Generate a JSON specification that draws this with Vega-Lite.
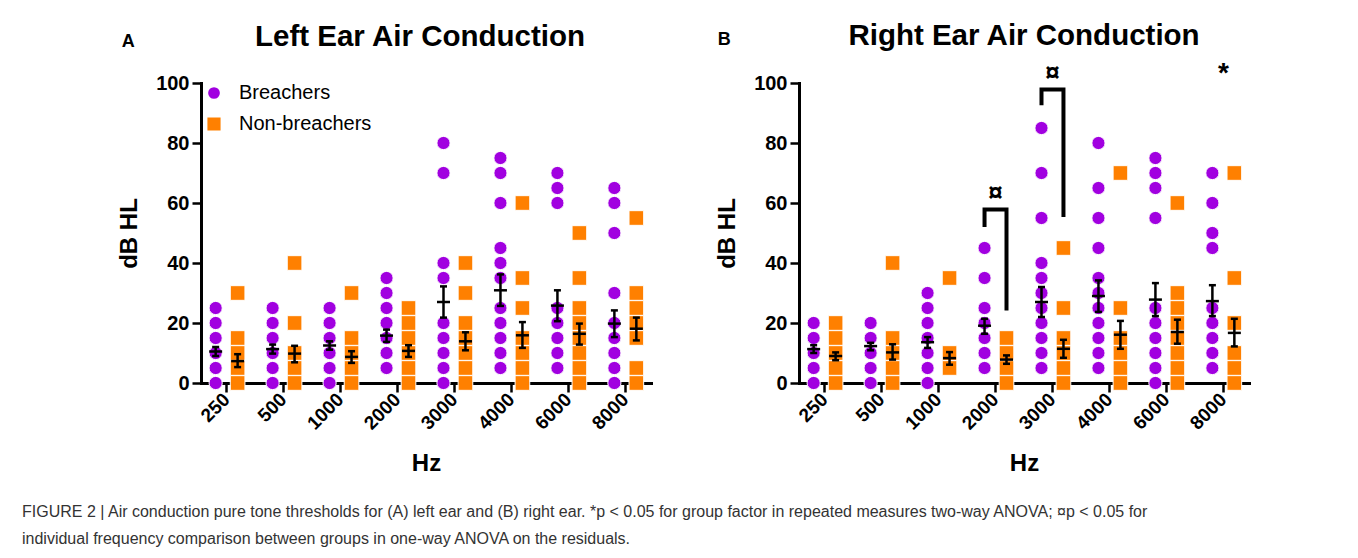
{
"$schema": "https://vega.github.io/schema/vega-lite/v6.json",
"padding": {"left": 22, "top": 21, "right": 5, "bottom": 5},
"background": "white",
"config": {
  "font": "Liberation Sans",
  "view": {"stroke": null},
  "axis": {"domainColor": "black", "domainWidth": 3, "domainCap": "square", "tickColor": "black", "tickWidth": 2.5, "tickSize": 9, "labelColor": "black", "labelFont": "Liberation Sans", "labelFontWeight": "bold", "labelFontSize": 20, "titleColor": "black", "titleFont": "Liberation Sans", "titleFontWeight": "bold", "titleFontSize": 24, "grid": false},
  "axisY": {"labelPadding": 3}
},
"datasets": {
  "points": [
    {"ear":"Left","freq":"250","group":"Breachers","value":0},{"ear":"Left","freq":"250","group":"Breachers","value":5},{"ear":"Left","freq":"250","group":"Breachers","value":10},{"ear":"Left","freq":"250","group":"Breachers","value":15},{"ear":"Left","freq":"250","group":"Breachers","value":20},{"ear":"Left","freq":"250","group":"Breachers","value":25},
    {"ear":"Left","freq":"500","group":"Breachers","value":0},{"ear":"Left","freq":"500","group":"Breachers","value":5},{"ear":"Left","freq":"500","group":"Breachers","value":10},{"ear":"Left","freq":"500","group":"Breachers","value":15},{"ear":"Left","freq":"500","group":"Breachers","value":20},{"ear":"Left","freq":"500","group":"Breachers","value":25},
    {"ear":"Left","freq":"1000","group":"Breachers","value":0},{"ear":"Left","freq":"1000","group":"Breachers","value":5},{"ear":"Left","freq":"1000","group":"Breachers","value":10},{"ear":"Left","freq":"1000","group":"Breachers","value":15},{"ear":"Left","freq":"1000","group":"Breachers","value":20},{"ear":"Left","freq":"1000","group":"Breachers","value":25},
    {"ear":"Left","freq":"2000","group":"Breachers","value":5},{"ear":"Left","freq":"2000","group":"Breachers","value":10},{"ear":"Left","freq":"2000","group":"Breachers","value":15},{"ear":"Left","freq":"2000","group":"Breachers","value":20},{"ear":"Left","freq":"2000","group":"Breachers","value":25},{"ear":"Left","freq":"2000","group":"Breachers","value":30},{"ear":"Left","freq":"2000","group":"Breachers","value":35},
    {"ear":"Left","freq":"3000","group":"Breachers","value":0},{"ear":"Left","freq":"3000","group":"Breachers","value":5},{"ear":"Left","freq":"3000","group":"Breachers","value":10},{"ear":"Left","freq":"3000","group":"Breachers","value":15},{"ear":"Left","freq":"3000","group":"Breachers","value":20},{"ear":"Left","freq":"3000","group":"Breachers","value":35},{"ear":"Left","freq":"3000","group":"Breachers","value":40},{"ear":"Left","freq":"3000","group":"Breachers","value":70},{"ear":"Left","freq":"3000","group":"Breachers","value":80},
    {"ear":"Left","freq":"4000","group":"Breachers","value":5},{"ear":"Left","freq":"4000","group":"Breachers","value":10},{"ear":"Left","freq":"4000","group":"Breachers","value":15},{"ear":"Left","freq":"4000","group":"Breachers","value":20},{"ear":"Left","freq":"4000","group":"Breachers","value":25},{"ear":"Left","freq":"4000","group":"Breachers","value":35},{"ear":"Left","freq":"4000","group":"Breachers","value":40},{"ear":"Left","freq":"4000","group":"Breachers","value":45},{"ear":"Left","freq":"4000","group":"Breachers","value":60},{"ear":"Left","freq":"4000","group":"Breachers","value":70},{"ear":"Left","freq":"4000","group":"Breachers","value":75},
    {"ear":"Left","freq":"6000","group":"Breachers","value":5},{"ear":"Left","freq":"6000","group":"Breachers","value":10},{"ear":"Left","freq":"6000","group":"Breachers","value":15},{"ear":"Left","freq":"6000","group":"Breachers","value":20},{"ear":"Left","freq":"6000","group":"Breachers","value":25},{"ear":"Left","freq":"6000","group":"Breachers","value":60},{"ear":"Left","freq":"6000","group":"Breachers","value":65},{"ear":"Left","freq":"6000","group":"Breachers","value":70},
    {"ear":"Left","freq":"8000","group":"Breachers","value":0},{"ear":"Left","freq":"8000","group":"Breachers","value":5},{"ear":"Left","freq":"8000","group":"Breachers","value":10},{"ear":"Left","freq":"8000","group":"Breachers","value":15},{"ear":"Left","freq":"8000","group":"Breachers","value":20},{"ear":"Left","freq":"8000","group":"Breachers","value":30},{"ear":"Left","freq":"8000","group":"Breachers","value":50},{"ear":"Left","freq":"8000","group":"Breachers","value":60},{"ear":"Left","freq":"8000","group":"Breachers","value":65},
    {"ear":"Left","freq":"250","group":"Non-breachers","value":0},{"ear":"Left","freq":"250","group":"Non-breachers","value":5},{"ear":"Left","freq":"250","group":"Non-breachers","value":10},{"ear":"Left","freq":"250","group":"Non-breachers","value":15},{"ear":"Left","freq":"250","group":"Non-breachers","value":30},
    {"ear":"Left","freq":"500","group":"Non-breachers","value":0},{"ear":"Left","freq":"500","group":"Non-breachers","value":5},{"ear":"Left","freq":"500","group":"Non-breachers","value":10},{"ear":"Left","freq":"500","group":"Non-breachers","value":20},{"ear":"Left","freq":"500","group":"Non-breachers","value":40},
    {"ear":"Left","freq":"1000","group":"Non-breachers","value":0},{"ear":"Left","freq":"1000","group":"Non-breachers","value":5},{"ear":"Left","freq":"1000","group":"Non-breachers","value":10},{"ear":"Left","freq":"1000","group":"Non-breachers","value":15},{"ear":"Left","freq":"1000","group":"Non-breachers","value":30},
    {"ear":"Left","freq":"2000","group":"Non-breachers","value":0},{"ear":"Left","freq":"2000","group":"Non-breachers","value":5},{"ear":"Left","freq":"2000","group":"Non-breachers","value":10},{"ear":"Left","freq":"2000","group":"Non-breachers","value":15},{"ear":"Left","freq":"2000","group":"Non-breachers","value":20},{"ear":"Left","freq":"2000","group":"Non-breachers","value":25},
    {"ear":"Left","freq":"3000","group":"Non-breachers","value":0},{"ear":"Left","freq":"3000","group":"Non-breachers","value":5},{"ear":"Left","freq":"3000","group":"Non-breachers","value":10},{"ear":"Left","freq":"3000","group":"Non-breachers","value":15},{"ear":"Left","freq":"3000","group":"Non-breachers","value":20},{"ear":"Left","freq":"3000","group":"Non-breachers","value":30},{"ear":"Left","freq":"3000","group":"Non-breachers","value":40},
    {"ear":"Left","freq":"4000","group":"Non-breachers","value":0},{"ear":"Left","freq":"4000","group":"Non-breachers","value":5},{"ear":"Left","freq":"4000","group":"Non-breachers","value":10},{"ear":"Left","freq":"4000","group":"Non-breachers","value":15},{"ear":"Left","freq":"4000","group":"Non-breachers","value":25},{"ear":"Left","freq":"4000","group":"Non-breachers","value":35},{"ear":"Left","freq":"4000","group":"Non-breachers","value":60},
    {"ear":"Left","freq":"6000","group":"Non-breachers","value":0},{"ear":"Left","freq":"6000","group":"Non-breachers","value":5},{"ear":"Left","freq":"6000","group":"Non-breachers","value":10},{"ear":"Left","freq":"6000","group":"Non-breachers","value":15},{"ear":"Left","freq":"6000","group":"Non-breachers","value":20},{"ear":"Left","freq":"6000","group":"Non-breachers","value":25},{"ear":"Left","freq":"6000","group":"Non-breachers","value":35},{"ear":"Left","freq":"6000","group":"Non-breachers","value":50},
    {"ear":"Left","freq":"8000","group":"Non-breachers","value":0},{"ear":"Left","freq":"8000","group":"Non-breachers","value":5},{"ear":"Left","freq":"8000","group":"Non-breachers","value":15},{"ear":"Left","freq":"8000","group":"Non-breachers","value":20},{"ear":"Left","freq":"8000","group":"Non-breachers","value":25},{"ear":"Left","freq":"8000","group":"Non-breachers","value":30},{"ear":"Left","freq":"8000","group":"Non-breachers","value":55},
    {"ear":"Right","freq":"250","group":"Breachers","value":0},{"ear":"Right","freq":"250","group":"Breachers","value":5},{"ear":"Right","freq":"250","group":"Breachers","value":10},{"ear":"Right","freq":"250","group":"Breachers","value":15},{"ear":"Right","freq":"250","group":"Breachers","value":20},
    {"ear":"Right","freq":"500","group":"Breachers","value":0},{"ear":"Right","freq":"500","group":"Breachers","value":5},{"ear":"Right","freq":"500","group":"Breachers","value":10},{"ear":"Right","freq":"500","group":"Breachers","value":15},{"ear":"Right","freq":"500","group":"Breachers","value":20},
    {"ear":"Right","freq":"1000","group":"Breachers","value":0},{"ear":"Right","freq":"1000","group":"Breachers","value":5},{"ear":"Right","freq":"1000","group":"Breachers","value":10},{"ear":"Right","freq":"1000","group":"Breachers","value":15},{"ear":"Right","freq":"1000","group":"Breachers","value":20},{"ear":"Right","freq":"1000","group":"Breachers","value":25},{"ear":"Right","freq":"1000","group":"Breachers","value":30},
    {"ear":"Right","freq":"2000","group":"Breachers","value":5},{"ear":"Right","freq":"2000","group":"Breachers","value":10},{"ear":"Right","freq":"2000","group":"Breachers","value":15},{"ear":"Right","freq":"2000","group":"Breachers","value":20},{"ear":"Right","freq":"2000","group":"Breachers","value":25},{"ear":"Right","freq":"2000","group":"Breachers","value":35},{"ear":"Right","freq":"2000","group":"Breachers","value":45},
    {"ear":"Right","freq":"3000","group":"Breachers","value":5},{"ear":"Right","freq":"3000","group":"Breachers","value":10},{"ear":"Right","freq":"3000","group":"Breachers","value":15},{"ear":"Right","freq":"3000","group":"Breachers","value":20},{"ear":"Right","freq":"3000","group":"Breachers","value":25},{"ear":"Right","freq":"3000","group":"Breachers","value":30},{"ear":"Right","freq":"3000","group":"Breachers","value":35},{"ear":"Right","freq":"3000","group":"Breachers","value":40},{"ear":"Right","freq":"3000","group":"Breachers","value":55},{"ear":"Right","freq":"3000","group":"Breachers","value":70},{"ear":"Right","freq":"3000","group":"Breachers","value":85},
    {"ear":"Right","freq":"4000","group":"Breachers","value":5},{"ear":"Right","freq":"4000","group":"Breachers","value":10},{"ear":"Right","freq":"4000","group":"Breachers","value":15},{"ear":"Right","freq":"4000","group":"Breachers","value":20},{"ear":"Right","freq":"4000","group":"Breachers","value":25},{"ear":"Right","freq":"4000","group":"Breachers","value":30},{"ear":"Right","freq":"4000","group":"Breachers","value":35},{"ear":"Right","freq":"4000","group":"Breachers","value":45},{"ear":"Right","freq":"4000","group":"Breachers","value":55},{"ear":"Right","freq":"4000","group":"Breachers","value":65},{"ear":"Right","freq":"4000","group":"Breachers","value":80},
    {"ear":"Right","freq":"6000","group":"Breachers","value":0},{"ear":"Right","freq":"6000","group":"Breachers","value":5},{"ear":"Right","freq":"6000","group":"Breachers","value":10},{"ear":"Right","freq":"6000","group":"Breachers","value":15},{"ear":"Right","freq":"6000","group":"Breachers","value":20},{"ear":"Right","freq":"6000","group":"Breachers","value":25},{"ear":"Right","freq":"6000","group":"Breachers","value":55},{"ear":"Right","freq":"6000","group":"Breachers","value":65},{"ear":"Right","freq":"6000","group":"Breachers","value":70},{"ear":"Right","freq":"6000","group":"Breachers","value":75},
    {"ear":"Right","freq":"8000","group":"Breachers","value":5},{"ear":"Right","freq":"8000","group":"Breachers","value":10},{"ear":"Right","freq":"8000","group":"Breachers","value":15},{"ear":"Right","freq":"8000","group":"Breachers","value":20},{"ear":"Right","freq":"8000","group":"Breachers","value":25},{"ear":"Right","freq":"8000","group":"Breachers","value":45},{"ear":"Right","freq":"8000","group":"Breachers","value":50},{"ear":"Right","freq":"8000","group":"Breachers","value":60},{"ear":"Right","freq":"8000","group":"Breachers","value":70},
    {"ear":"Right","freq":"250","group":"Non-breachers","value":0},{"ear":"Right","freq":"250","group":"Non-breachers","value":5},{"ear":"Right","freq":"250","group":"Non-breachers","value":10},{"ear":"Right","freq":"250","group":"Non-breachers","value":15},{"ear":"Right","freq":"250","group":"Non-breachers","value":20},
    {"ear":"Right","freq":"500","group":"Non-breachers","value":0},{"ear":"Right","freq":"500","group":"Non-breachers","value":5},{"ear":"Right","freq":"500","group":"Non-breachers","value":10},{"ear":"Right","freq":"500","group":"Non-breachers","value":15},{"ear":"Right","freq":"500","group":"Non-breachers","value":40},
    {"ear":"Right","freq":"1000","group":"Non-breachers","value":5},{"ear":"Right","freq":"1000","group":"Non-breachers","value":10},{"ear":"Right","freq":"1000","group":"Non-breachers","value":35},
    {"ear":"Right","freq":"2000","group":"Non-breachers","value":0},{"ear":"Right","freq":"2000","group":"Non-breachers","value":5},{"ear":"Right","freq":"2000","group":"Non-breachers","value":10},{"ear":"Right","freq":"2000","group":"Non-breachers","value":15},
    {"ear":"Right","freq":"3000","group":"Non-breachers","value":0},{"ear":"Right","freq":"3000","group":"Non-breachers","value":5},{"ear":"Right","freq":"3000","group":"Non-breachers","value":10},{"ear":"Right","freq":"3000","group":"Non-breachers","value":15},{"ear":"Right","freq":"3000","group":"Non-breachers","value":25},{"ear":"Right","freq":"3000","group":"Non-breachers","value":45},
    {"ear":"Right","freq":"4000","group":"Non-breachers","value":0},{"ear":"Right","freq":"4000","group":"Non-breachers","value":5},{"ear":"Right","freq":"4000","group":"Non-breachers","value":10},{"ear":"Right","freq":"4000","group":"Non-breachers","value":15},{"ear":"Right","freq":"4000","group":"Non-breachers","value":25},{"ear":"Right","freq":"4000","group":"Non-breachers","value":70},
    {"ear":"Right","freq":"6000","group":"Non-breachers","value":0},{"ear":"Right","freq":"6000","group":"Non-breachers","value":5},{"ear":"Right","freq":"6000","group":"Non-breachers","value":10},{"ear":"Right","freq":"6000","group":"Non-breachers","value":15},{"ear":"Right","freq":"6000","group":"Non-breachers","value":20},{"ear":"Right","freq":"6000","group":"Non-breachers","value":25},{"ear":"Right","freq":"6000","group":"Non-breachers","value":30},{"ear":"Right","freq":"6000","group":"Non-breachers","value":60},
    {"ear":"Right","freq":"8000","group":"Non-breachers","value":0},{"ear":"Right","freq":"8000","group":"Non-breachers","value":5},{"ear":"Right","freq":"8000","group":"Non-breachers","value":10},{"ear":"Right","freq":"8000","group":"Non-breachers","value":20},{"ear":"Right","freq":"8000","group":"Non-breachers","value":35},{"ear":"Right","freq":"8000","group":"Non-breachers","value":70}
  ],
  "summary": [
    {"ear":"Left","freq":"250","group":"Breachers","mean":10.5,"lo":9,"hi":12},
    {"ear":"Left","freq":"500","group":"Breachers","mean":11.3,"lo":9.8,"hi":12.8},
    {"ear":"Left","freq":"1000","group":"Breachers","mean":12.5,"lo":11.1,"hi":13.9},
    {"ear":"Left","freq":"2000","group":"Breachers","mean":15.8,"lo":13.7,"hi":17.8},
    {"ear":"Left","freq":"3000","group":"Breachers","mean":27,"lo":21.8,"hi":32.2},
    {"ear":"Left","freq":"4000","group":"Breachers","mean":30.9,"lo":25.7,"hi":36.2},
    {"ear":"Left","freq":"6000","group":"Breachers","mean":25.8,"lo":20.6,"hi":30.9},
    {"ear":"Left","freq":"8000","group":"Breachers","mean":19.8,"lo":15.3,"hi":24.2},
    {"ear":"Left","freq":"250","group":"Non-breachers","mean":7.3,"lo":5.3,"hi":9.6},
    {"ear":"Left","freq":"500","group":"Non-breachers","mean":9.8,"lo":6.9,"hi":12.4},
    {"ear":"Left","freq":"1000","group":"Non-breachers","mean":8.7,"lo":6.7,"hi":10.6},
    {"ear":"Left","freq":"2000","group":"Non-breachers","mean":10.7,"lo":8.7,"hi":12.6},
    {"ear":"Left","freq":"3000","group":"Non-breachers","mean":13.9,"lo":10.9,"hi":16.9},
    {"ear":"Left","freq":"4000","group":"Non-breachers","mean":15.9,"lo":11.7,"hi":20.3},
    {"ear":"Left","freq":"6000","group":"Non-breachers","mean":16.4,"lo":12.8,"hi":19.8},
    {"ear":"Left","freq":"8000","group":"Non-breachers","mean":18.1,"lo":14.2,"hi":21.8},
    {"ear":"Right","freq":"250","group":"Breachers","mean":11.3,"lo":10,"hi":12.6},
    {"ear":"Right","freq":"500","group":"Breachers","mean":12.3,"lo":10.9,"hi":13.4},
    {"ear":"Right","freq":"1000","group":"Breachers","mean":13.6,"lo":11.7,"hi":15.3},
    {"ear":"Right","freq":"2000","group":"Breachers","mean":19.1,"lo":16.4,"hi":21.4},
    {"ear":"Right","freq":"3000","group":"Breachers","mean":27,"lo":22,"hi":32},
    {"ear":"Right","freq":"4000","group":"Breachers","mean":29,"lo":23.7,"hi":34.2},
    {"ear":"Right","freq":"6000","group":"Breachers","mean":27.8,"lo":22.3,"hi":33.3},
    {"ear":"Right","freq":"8000","group":"Breachers","mean":27.3,"lo":22.3,"hi":32.6},
    {"ear":"Right","freq":"250","group":"Non-breachers","mean":9,"lo":7.6,"hi":10.2},
    {"ear":"Right","freq":"500","group":"Non-breachers","mean":10.2,"lo":7.8,"hi":12.9},
    {"ear":"Right","freq":"1000","group":"Non-breachers","mean":8.3,"lo":6.1,"hi":10.3},
    {"ear":"Right","freq":"2000","group":"Non-breachers","mean":7.8,"lo":6.4,"hi":9.2},
    {"ear":"Right","freq":"3000","group":"Non-breachers","mean":11.4,"lo":8.4,"hi":14.4},
    {"ear":"Right","freq":"4000","group":"Non-breachers","mean":16.1,"lo":11.4,"hi":20.7},
    {"ear":"Right","freq":"6000","group":"Non-breachers","mean":17,"lo":13.1,"hi":21.1},
    {"ear":"Right","freq":"8000","group":"Non-breachers","mean":16.7,"lo":12.2,"hi":21.4}
  ],
  "brackets": [
    {"id":1,"ord":1,"freq":"2000","group":"Breachers","value":52},
    {"id":1,"ord":2,"freq":"2000","group":"Breachers","value":57.8},
    {"id":1,"ord":3,"freq":"2000","group":"Non-breachers","value":57.8},
    {"id":1,"ord":4,"freq":"2000","group":"Non-breachers","value":24.2},
    {"id":2,"ord":1,"freq":"3000","group":"Breachers","value":92.6},
    {"id":2,"ord":2,"freq":"3000","group":"Breachers","value":97.8},
    {"id":2,"ord":3,"freq":"3000","group":"Non-breachers","value":97.8},
    {"id":2,"ord":4,"freq":"3000","group":"Non-breachers","value":55.3}
  ],
  "annots": [
    {"freq":"2000","value":63.5,"label":"¤"},
    {"freq":"3000","value":103.5,"label":"¤"},
    {"freq":"8000","value":103,"label":"*"}
  ]
},
"title": {"text": ["FIGURE 2 | Air conduction pure tone thresholds for (A) left ear and (B) right ear. *p < 0.05 for group factor in repeated measures two-way ANOVA; ¤p < 0.05 for", "individual frequency comparison between groups in one-way ANOVA on the residuals."], "orient": "bottom", "anchor": "start", "frame": "bounds", "font": "Liberation Sans", "fontSize": 16, "fontWeight": "normal", "color": "#333333", "lineHeight": 27, "offset": 28},
"spacing": 64,
"resolve": {"scale": {"color": "independent", "shape": "independent", "size": "independent", "xOffset": "independent"}, "legend": {"color": "independent", "shape": "independent", "size": "independent"}},
"hconcat": [
  {"width": 31, "height": 300, "data": {"values": []}, "mark": "point", "encoding": {}},
  {
    "title": {"text": "A", "anchor": "start", "frame": "bounds", "font": "Liberation Sans", "fontSize": 18, "fontWeight": "bold", "color": "black", "offset": -29, "dx": 4},
    "resolve": {"scale": {"color": "independent", "shape": "independent", "size": "independent"}, "legend": {"color": "independent", "shape": "independent", "size": "independent"}},
    "vconcat": [{
      "title": {"text": "Left Ear Air Conduction", "anchor": "middle", "frame": "group", "font": "Liberation Sans", "fontSize": 29.5, "fontWeight": "bold", "color": "black", "offset": 21, "dx": -6},
      "width": 450, "height": 300,
      "layer": [
        {"data": {"name": "points"}, "transform": [{"filter": "datum.ear === 'Left'"}],
         "mark": {"type": "point", "filled": true, "opacity": 1, "stroke": "white", "strokeWidth": 1},
         "encoding": {
           "x": {"field": "freq", "type": "ordinal", "sort": ["250","500","1000","2000","3000","4000","6000","8000"], "scale": {"type": "band", "paddingInner": 0.1, "paddingOuter": 0}, "axis": {"title": "Hz", "labelAngle": -45, "labelAlign": "right", "labelBaseline": "middle", "labelFontSize": 19, "labelPadding": 4, "titlePadding": 19}},
           "xOffset": {"field": "group", "type": "nominal", "scale": {"domain": ["Breachers","Non-breachers"], "paddingOuter": 0.167}},
           "y": {"field": "value", "type": "quantitative", "scale": {"domain": [0, 100], "nice": false}, "axis": {"title": "dB HL", "values": [0,20,40,60,80,100], "titlePadding": 14}},
           "color": {"field": "group", "type": "nominal", "scale": {"domain": ["Breachers","Non-breachers"], "range": ["#A100E0","#FF8000"]}, "legend": {"orient": "none", "legendX": 3, "legendY": 0, "title": null, "labelFont": "Liberation Sans", "labelFontSize": 20, "labelFontWeight": "normal", "labelColor": "black", "symbolSize": 120, "rowPadding": 10, "labelOffset": 15, "padding": 0}},
           "shape": {"field": "group", "type": "nominal", "scale": {"domain": ["Breachers","Non-breachers"], "range": ["circle","square"]}, "legend": {"orient": "none", "legendX": 3, "legendY": 0, "title": null, "labelFont": "Liberation Sans", "labelFontSize": 20, "labelFontWeight": "normal", "labelColor": "black", "symbolSize": 120, "rowPadding": 10, "labelOffset": 15, "padding": 0}},
           "size": {"field": "group", "type": "nominal", "scale": {"domain": ["Breachers","Non-breachers"], "range": [175, 215]}, "legend": null}
         }},
        {"data": {"name": "summary"}, "transform": [{"filter": "datum.ear === 'Left'"}],
         "mark": {"type": "rule", "color": "black", "strokeWidth": 2.5},
         "encoding": {
           "x": {"field": "freq", "type": "ordinal", "sort": ["250","500","1000","2000","3000","4000","6000","8000"]},
           "xOffset": {"field": "group", "type": "nominal"},
           "y": {"field": "lo", "type": "quantitative", "scale": {"domain": [0, 100], "nice": false}},
           "y2": {"field": "hi"}
         }},
        {"data": {"name": "summary"}, "transform": [{"filter": "datum.ear === 'Left'"}],
         "mark": {"type": "tick", "orient": "horizontal", "color": "black", "size": 7, "thickness": 2.5, "opacity": 1},
         "encoding": {
           "x": {"field": "freq", "type": "ordinal", "sort": ["250","500","1000","2000","3000","4000","6000","8000"]},
           "xOffset": {"field": "group", "type": "nominal"},
           "y": {"field": "hi", "type": "quantitative", "scale": {"domain": [0, 100], "nice": false}}
         }},
        {"data": {"name": "summary"}, "transform": [{"filter": "datum.ear === 'Left'"}],
         "mark": {"type": "tick", "orient": "horizontal", "color": "black", "size": 7, "thickness": 2.5, "opacity": 1},
         "encoding": {
           "x": {"field": "freq", "type": "ordinal", "sort": ["250","500","1000","2000","3000","4000","6000","8000"]},
           "xOffset": {"field": "group", "type": "nominal"},
           "y": {"field": "lo", "type": "quantitative", "scale": {"domain": [0, 100], "nice": false}}
         }},
        {"data": {"name": "summary"}, "transform": [{"filter": "datum.ear === 'Left'"}],
         "mark": {"type": "tick", "orient": "horizontal", "color": "black", "size": 13, "thickness": 2.5, "opacity": 1},
         "encoding": {
           "x": {"field": "freq", "type": "ordinal", "sort": ["250","500","1000","2000","3000","4000","6000","8000"]},
           "xOffset": {"field": "group", "type": "nominal"},
           "y": {"field": "mean", "type": "quantitative", "scale": {"domain": [0, 100], "nice": false}}
         }}
      ]
    }]
  },
  {
    "title": {"text": "B", "anchor": "start", "frame": "bounds", "font": "Liberation Sans", "fontSize": 18, "fontWeight": "bold", "color": "black", "offset": -28, "dx": 2},
    "resolve": {"scale": {"color": "independent", "shape": "independent", "size": "independent"}, "legend": {"color": "independent", "shape": "independent", "size": "independent"}},
    "vconcat": [{
      "title": {"text": "Right Ear Air Conduction", "anchor": "middle", "frame": "group", "font": "Liberation Sans", "fontSize": 29.5, "fontWeight": "bold", "color": "black", "offset": 8},
      "width": 450, "height": 300,
      "layer": [
        {"data": {"name": "points"}, "transform": [{"filter": "datum.ear === 'Right'"}],
         "mark": {"type": "point", "filled": true, "opacity": 1, "stroke": "white", "strokeWidth": 1},
         "encoding": {
           "x": {"field": "freq", "type": "ordinal", "sort": ["250","500","1000","2000","3000","4000","6000","8000"], "scale": {"type": "band", "paddingInner": 0.1, "paddingOuter": 0}, "axis": {"title": "Hz", "labelAngle": -45, "labelAlign": "right", "labelBaseline": "middle", "labelFontSize": 19, "labelPadding": 4, "titlePadding": 19}},
           "xOffset": {"field": "group", "type": "nominal", "scale": {"domain": ["Breachers","Non-breachers"], "paddingOuter": 0.167}},
           "y": {"field": "value", "type": "quantitative", "scale": {"domain": [0, 100], "nice": false}, "axis": {"title": "dB HL", "values": [0,20,40,60,80,100], "titlePadding": 14}},
           "color": {"field": "group", "type": "nominal", "scale": {"domain": ["Breachers","Non-breachers"], "range": ["#A100E0","#FF8000"]}, "legend": null},
           "shape": {"field": "group", "type": "nominal", "scale": {"domain": ["Breachers","Non-breachers"], "range": ["circle","square"]}, "legend": null},
           "size": {"field": "group", "type": "nominal", "scale": {"domain": ["Breachers","Non-breachers"], "range": [175, 215]}, "legend": null}
         }},
        {"data": {"name": "summary"}, "transform": [{"filter": "datum.ear === 'Right'"}],
         "mark": {"type": "rule", "color": "black", "strokeWidth": 2.5},
         "encoding": {
           "x": {"field": "freq", "type": "ordinal", "sort": ["250","500","1000","2000","3000","4000","6000","8000"]},
           "xOffset": {"field": "group", "type": "nominal"},
           "y": {"field": "lo", "type": "quantitative", "scale": {"domain": [0, 100], "nice": false}},
           "y2": {"field": "hi"}
         }},
        {"data": {"name": "summary"}, "transform": [{"filter": "datum.ear === 'Right'"}],
         "mark": {"type": "tick", "orient": "horizontal", "color": "black", "size": 7, "thickness": 2.5, "opacity": 1},
         "encoding": {
           "x": {"field": "freq", "type": "ordinal", "sort": ["250","500","1000","2000","3000","4000","6000","8000"]},
           "xOffset": {"field": "group", "type": "nominal"},
           "y": {"field": "hi", "type": "quantitative", "scale": {"domain": [0, 100], "nice": false}}
         }},
        {"data": {"name": "summary"}, "transform": [{"filter": "datum.ear === 'Right'"}],
         "mark": {"type": "tick", "orient": "horizontal", "color": "black", "size": 7, "thickness": 2.5, "opacity": 1},
         "encoding": {
           "x": {"field": "freq", "type": "ordinal", "sort": ["250","500","1000","2000","3000","4000","6000","8000"]},
           "xOffset": {"field": "group", "type": "nominal"},
           "y": {"field": "lo", "type": "quantitative", "scale": {"domain": [0, 100], "nice": false}}
         }},
        {"data": {"name": "summary"}, "transform": [{"filter": "datum.ear === 'Right'"}],
         "mark": {"type": "tick", "orient": "horizontal", "color": "black", "size": 13, "thickness": 2.5, "opacity": 1},
         "encoding": {
           "x": {"field": "freq", "type": "ordinal", "sort": ["250","500","1000","2000","3000","4000","6000","8000"]},
           "xOffset": {"field": "group", "type": "nominal"},
           "y": {"field": "mean", "type": "quantitative", "scale": {"domain": [0, 100], "nice": false}}
         }},
        {"data": {"name": "brackets"},
         "mark": {"type": "line", "color": "black", "strokeWidth": 4, "strokeJoin": "miter", "strokeCap": "butt"},
         "encoding": {
           "x": {"field": "freq", "type": "ordinal", "sort": ["250","500","1000","2000","3000","4000","6000","8000"]},
           "xOffset": {"field": "group", "type": "nominal"},
           "y": {"field": "value", "type": "quantitative", "scale": {"domain": [0, 100], "nice": false}},
           "detail": {"field": "id", "type": "nominal"},
           "order": {"field": "ord", "type": "quantitative"}
         }},
        {"data": {"name": "annots"}, "transform": [{"filter": "datum.label === '¤'"}],
         "mark": {"type": "text", "font": "Liberation Sans", "fontWeight": "bold", "fontSize": 26, "color": "black", "baseline": "middle"},
         "encoding": {
           "x": {"field": "freq", "type": "ordinal", "sort": ["250","500","1000","2000","3000","4000","6000","8000"]},
           "y": {"field": "value", "type": "quantitative", "scale": {"domain": [0, 100], "nice": false}},
           "text": {"field": "label"}
         }},
        {"data": {"name": "annots"}, "transform": [{"filter": "datum.label === '*'"}],
         "mark": {"type": "text", "font": "Liberation Sans", "fontWeight": "bold", "fontSize": 28, "color": "black", "baseline": "middle"},
         "encoding": {
           "x": {"field": "freq", "type": "ordinal", "sort": ["250","500","1000","2000","3000","4000","6000","8000"]},
           "y": {"field": "value", "type": "quantitative", "scale": {"domain": [0, 100], "nice": false}},
           "text": {"field": "label"}
         }}
      ]
    }]
  }
]
}
